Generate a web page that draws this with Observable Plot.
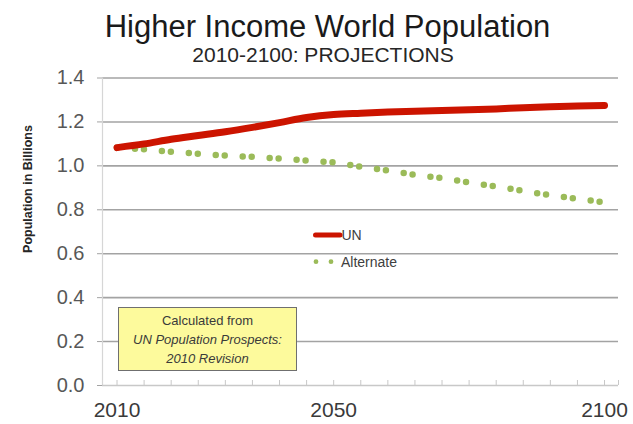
<!DOCTYPE html>
<html>
<head>
<meta charset="utf-8">
<script src="https://cdn.jsdelivr.net/npm/d3@7"></script>
<script src="https://cdn.jsdelivr.net/npm/@observablehq/plot@0.6"></script>
<style>
  html, body { margin: 0; padding: 0; background: #fff; }
  #wrap { position: relative; width: 633px; height: 424px; overflow: hidden; font-family: "Liberation Sans", Arial, sans-serif; }
  .abs { position: absolute; white-space: nowrap; }
  #title { left: 327.5px; top: 10.8px; transform: translateX(-50%); font-size: 31px; line-height: 31px; color: #1a1a1a; }
  #subtitle { left: 323px; top: 43.9px; transform: translateX(-50%); font-size: 21px; line-height: 21px; color: #262626; }
  #ylabel { left: 27.5px; top: 189px; transform: translate(-50%, -50%) rotate(-90deg); font-size: 12.5px; font-weight: bold; color: #262626; }
  #chart { left: 0; top: 62px; }
  #note { left: 118.3px; top: 306.7px; width: 178.4px; height: 64px; box-sizing: border-box; border: 1px solid #6f6f6f; background: #fdfa9c; text-align: center; font-size: 13px; line-height: 18.7px; color: #3a3a3a; padding-top: 4.7px; }
  #note i { font-style: italic; }
  #legend { left: 300px; top: 222px; }
</style>
</head>
<body>
<div id="wrap">
  <div id="title" class="abs"></div>
  <div id="subtitle" class="abs"></div>
  <div id="ylabel" class="abs"></div>
  <div id="chart" class="abs"></div>
  <div id="note" class="abs"></div>
  <div id="legend" class="abs"></div>
</div>
<script>
// ---- data ----
const titleText = "Higher Income World Population";
const subtitleText = "2010-2100: PROJECTIONS";
const yAxisTitle = "Population in Billions";
const noteLines = ["Calculated from", "UN Population Prospects:", "2010 Revision"];

const years = [2010, 2015, 2020, 2025, 2030, 2035, 2040, 2045, 2050, 2055, 2060, 2065, 2070, 2075, 2080, 2085, 2090, 2095, 2100];
const unValues = [1.083, 1.100, 1.121, 1.138, 1.155, 1.175, 1.197, 1.220, 1.234, 1.240, 1.245, 1.249, 1.252, 1.255, 1.259, 1.265, 1.269, 1.272, 1.275];
const altValues = [1.083, 1.075, 1.064, 1.055, 1.047, 1.041, 1.033, 1.024, 1.016, 0.996, 0.979, 0.959, 0.944, 0.924, 0.906, 0.886, 0.866, 0.850, 0.834];

const seriesNames = ["UN", "Alternate"];
const yTicks = [0, 0.2, 0.4, 0.6, 0.8, 1.0, 1.2, 1.4];
const xLabelYears = [2010, 2050, 2100];
const xDomain = [2007.32, 2102.58];

// ---- style ----
const unColor = "#cc1400";
const altColor = "#9bbb59";
const gridColor = "#a3a3a3";
const axisColor = "#d6d6d6";
const narrow = "'Liberation Sans Narrow', 'Liberation Sans', Arial, sans-serif";

document.getElementById("title").textContent = titleText;
document.getElementById("subtitle").textContent = subtitleText;
document.getElementById("ylabel").textContent = yAxisTitle;
document.getElementById("note").innerHTML =
  `${noteLines[0]}<br><i>${noteLines[1]}</i><br><i>${noteLines[2]}</i>`;

const unData = years.map((y, i) => ({year: y, value: unValues[i]}));
const altData = years.map((y, i) => ({year: y, value: altValues[i]}));

const H = 362, mt = 15.5, mb = 39;
const frameH = H - mt - mb;

const chart = Plot.plot({
  width: 633,
  height: H,
  marginTop: mt,
  marginBottom: mb,
  marginLeft: 102,
  marginRight: 15,
  style: {background: "transparent", overflow: "visible"},
  x: {domain: xDomain},
  y: {domain: [0, 1.4]},
  marks: [
    Plot.ruleY(yTicks.filter(d => d > 0), {stroke: gridColor, strokeWidth: 1.6}),
    Plot.axisY(yTicks, {tickSize: 5, tickPadding: 13, tickFormat: d3.format(".1f"),
      stroke: gridColor, fill: "#575757", fontSize: 20, fontFamily: narrow, label: null}),
    Plot.ruleX([xDomain[0]], {stroke: axisColor, strokeWidth: 1.2}),
    Plot.ruleY([0], {stroke: "#c8c8c8", strokeWidth: 1.4}),
    Plot.tickX(years, {x: d => d, stroke: "#c8c8c8", strokeWidth: 1, insetTop: frameH - 5}),
    Plot.tickX(xDomain.slice(1), {x: d => d, stroke: "#c8c8c8", strokeWidth: 1, insetTop: frameH - 5}),
    Plot.axisX(xLabelYears, {tickSize: 0, tickPadding: 16.5, tickFormat: d => String(d),
      fill: "#3a3a3a", fontSize: 21, fontFamily: narrow, label: null}),
    Plot.line(altData, {x: "year", y: "value", stroke: altColor, strokeWidth: 6.5,
      strokeDasharray: "0 18 0 9", strokeLinecap: "round"}),
    Plot.line(unData, {x: "year", y: "value", stroke: unColor, strokeWidth: 7,
      strokeLinecap: "round", strokeLinejoin: "round", curve: "monotone-x"})
  ]
});
document.getElementById("chart").appendChild(chart);

// legend
const legendSvg = d3.create("svg").attr("width", 120).attr("height", 50)
  .style("overflow", "visible").style("font-family", "'Liberation Sans', Arial, sans-serif");
const lg = legendSvg.append("g");
lg.append("line").attr("x1", 15.5).attr("x2", 40).attr("y1", 13).attr("y2", 13)
  .attr("stroke", unColor).attr("stroke-width", 5).attr("stroke-linecap", "round");
lg.append("text").attr("x", 41.5).attr("y", 13).attr("dy", "0.36em")
  .attr("font-size", 14).attr("fill", "#404040").text(seriesNames[0]);
lg.append("line").attr("x1", 16).attr("x2", 33).attr("y1", 39.7).attr("y2", 39.7)
  .attr("stroke", altColor).attr("stroke-width", 4.8).attr("stroke-linecap", "round")
  .attr("stroke-dasharray", "0 15");
lg.append("text").attr("x", 41).attr("y", 40).attr("dy", "0.36em")
  .attr("font-size", 14).attr("fill", "#404040").text(seriesNames[1]);
document.getElementById("legend").appendChild(legendSvg.node());
</script>
</body>
</html>
